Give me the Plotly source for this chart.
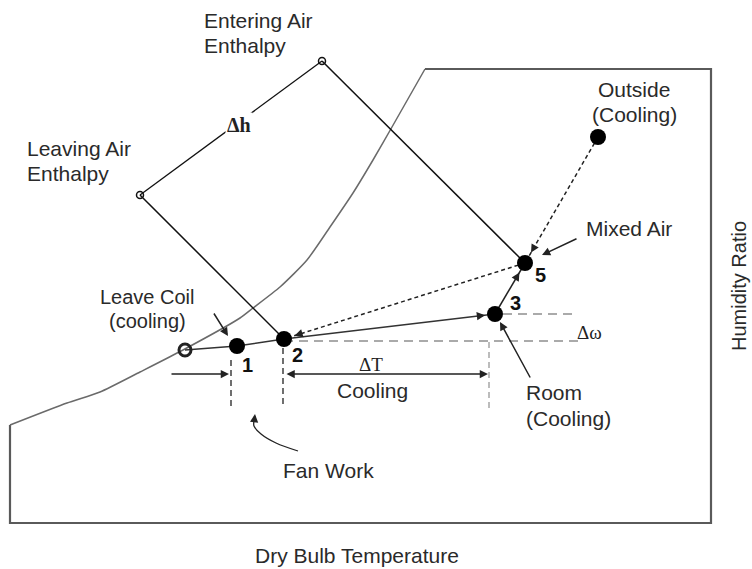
import math
import plotly.graph_objects as go

# ---------------- data (diagram units) ----------------
frame_x = [425, 711, 711, 10, 10]
frame_y = [69, 69, 523, 523, 425]
sat_x = [10, 67, 100, 140, 183, 240, 253, 280, 307, 330, 353, 373, 392, 425]
sat_y = [425, 403, 392, 372, 350, 318, 308, 287, 260, 227, 193, 160, 127, 69]

enth_x = [140, 322]          # leaving, entering enthalpy ends
enth_y = [195, 61]

coil_x, coil_y = 185, 350
state_labels = ["1", "2", "3", "5"]
state_x = [237, 284, 495, 525]
state_y = [346, 339, 314, 263]
outside_x, outside_y = 598, 137

dw_x = [[284, 578], [503, 577]]
dw_y = [341, 314]
drop_x = [231, 283, 489]
drop_top = [360, 348, 342]
drop_bot = [408, 408, 412]
fan_dim_x = [170, 229]
dT_x = [285, 488]
dim_y = 374
fan_curve_x = [298, 276, 261, 254, 254]
fan_curve_y = [451, 443, 434, 426, 421]

# ---------------- figure ----------------
fig = go.Figure()


def line(xs, ys, color, width, dash="solid", shape="linear", smoothing=None):
    ln = dict(color=color, width=width, dash=dash, shape=shape)
    if smoothing is not None:
        ln["smoothing"] = smoothing
    fig.add_trace(go.Scatter(x=xs, y=ys, mode="lines", line=ln,
                             hoverinfo="skip", showlegend=False))


line(frame_x, frame_y, "#5a5a5a", 2.2)
line(sat_x, sat_y, "#6a6a6a", 1.5, shape="spline", smoothing=0.6)

# enthalpy lines
line([enth_x[1], state_x[3]], [enth_y[1], state_y[3]], "#111", 1.5)
line([enth_x[0], state_x[1]], [enth_y[0], state_y[1]], "#111", 1.5)
line(enth_x, enth_y, "#111", 1.3)

# process lines
line([coil_x] + state_x[:3], [coil_y] + state_y[:3], "#333", 1.4)
line(state_x[2:4], state_y[2:4], "#222", 1.5)
line([outside_x, state_x[3]], [outside_y, state_y[3]], "#222", 1.5, dash="4px,3px")
line([state_x[3], state_x[1]], [state_y[3], state_y[1]], "#222", 1.5, dash="4px,3px")

# delta-omega guides
for xs, yv in zip(dw_x, dw_y):
    line(xs, [yv, yv], "#aaaaaa", 2, dash="9px,6px")

# vertical drops
for i, (xv, t, b) in enumerate(zip(drop_x, drop_top, drop_bot)):
    line([xv, xv], [t, b], "#222" if i < 2 else "#999", 1.3, dash="6px,4px")

# fan work curve
line(fan_curve_x, fan_curve_y, "#222", 1.3, shape="spline")

# markers
fig.add_trace(go.Scatter(x=state_x + [outside_x], y=state_y + [outside_y], mode="markers",
                         marker=dict(size=16, color="black"), hoverinfo="skip", showlegend=False))
fig.add_trace(go.Scatter(x=[coil_x], y=[coil_y], mode="markers",
                         marker=dict(size=12, symbol="circle-open", color="#222", line=dict(width=3)),
                         hoverinfo="skip", showlegend=False))
fig.add_trace(go.Scatter(x=enth_x, y=enth_y, mode="markers",
                         marker=dict(size=7, symbol="circle-open", color="#111", line=dict(width=1.5)),
                         hoverinfo="skip", showlegend=False))

ann = []


def arrow(x, y, ax, ay, side="end", color="#222"):
    ann.append(dict(x=x, y=y, ax=ax, ay=ay, xref="x", yref="y", axref="x", ayref="y",
                    showarrow=True, text="", arrowhead=2, arrowsize=1.1, arrowwidth=1.5,
                    arrowcolor=color, arrowside=side))


def head(x0, y0, x1, y1, stand, length=9):
    dx, dy = x1 - x0, y1 - y0
    d = math.hypot(dx, dy)
    ux, uy = dx / d, dy / d
    hx, hy = x1 - stand * ux, y1 - stand * uy
    arrow(hx, hy, hx - length * ux, hy - length * uy)


head(state_x[1], state_y[1], state_x[2], state_y[2], 10)
head(state_x[2], state_y[2], state_x[3], state_y[3], 11)
head(outside_x, outside_y, state_x[3], state_y[3], 12)
head(state_x[3], state_y[3], state_x[1], state_y[1], 11)

arrow(fan_dim_x[1], dim_y, fan_dim_x[0], dim_y)
arrow(dT_x[1], dim_y, dT_x[0], dim_y, side="end+start")
arrow(228, 336, 213, 312)
arrow(500, 322, 531, 379)
arrow(542, 255, 578, 238)
arrow(255, 414, 254, 423)

SANS = "Liberation Sans, Arial, sans-serif"
SERIF = "Liberation Serif, Times New Roman, serif"


def text(t, x, y, xanchor="center", size=21, family=SANS, color="#2a2a2a", **kw):
    ann.append(dict(x=x, y=y, xref="x", yref="y", text=t, showarrow=False,
                    xanchor=xanchor, yanchor="middle",
                    font=dict(family=family, size=size, color=color), **kw))


text("Entering Air", 202, 20, "left")
text("Enthalpy", 202, 45, "left")
text("Leaving Air", 25, 148, "left")
text("Enthalpy", 25, 173, "left")
text("Outside", 634, 89)
text("(Cooling)", 634, 114)
text("Mixed Air", 584, 228, "left")
text("Leave Coil", 147, 297, size=20)
text("(cooling)", 147, 321, size=20)
text("Room", 524, 392, "left")
text("(Cooling)", 524, 418, "left")
text("Fan Work", 328, 470)
text("Cooling", 372, 390)
text("Dry Bulb Temperature", 357, 555)
text("Humidity Ratio", 752, 286, xanchor="right", size=20, textangle=-90)
text("<b>Δh</b>", 239, 125, size=20, family=SERIF, color="#222", bgcolor="white")
text("ΔT", 371, 364, size=19, family=SERIF, color="#222")
text("Δω", 589, 332, size=19, family=SERIF, color="#222")

num_pos = [(247, 365), (297, 355), (515, 303), (540, 275)]
for lab, (nx, ny) in zip(state_labels, num_pos):
    text("<b>" + lab + "</b>", nx, ny, size=20, color="#111")

fig.update_layout(
    width=752, height=569, margin=dict(l=0, r=0, t=0, b=0),
    paper_bgcolor="white", plot_bgcolor="white",
    xaxis=dict(range=[0, 752], visible=False, fixedrange=True),
    yaxis=dict(range=[569, 0], visible=False, fixedrange=True),
    annotations=ann, showlegend=False,
)

fig.write_html("out.html", config={"displayModeBar": False},
               post_script="document.body.style.margin='0';document.body.style.overflow='hidden';")
